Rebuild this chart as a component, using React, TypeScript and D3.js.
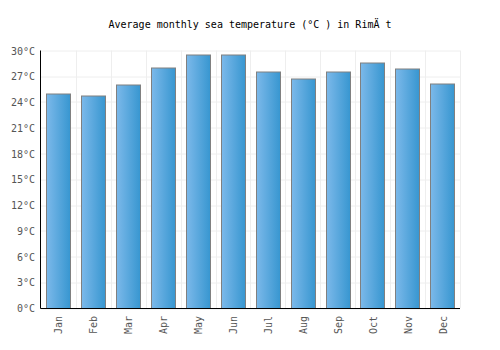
import { useRef, useEffect } from 'react';
import * as d3 from 'd3';

const months = ['Jan', 'Feb', 'Mar', 'Apr', 'May', 'Jun', 'Jul', 'Aug', 'Sep', 'Oct', 'Nov', 'Dec'];
const seaTemps = [25.0, 24.8, 26.0, 28.0, 29.5, 29.5, 27.6, 26.7, 27.6, 28.6, 27.9, 26.1];
const yTicks = [0, 3, 6, 9, 12, 15, 18, 21, 24, 27, 30];
const title = 'Average monthly sea temperature (°C ) in RimÄ t';

export default function App() {
  const svgRef = useRef<SVGSVGElement>(null);

  useEffect(() => {
    if (!svgRef.current) return;
    const svg = d3.select(svgRef.current);
    svg.selectAll('*').remove();

    const width = 500;
    const height = 350;
    const margin = { top: 50.5, right: 40, bottom: 42, left: 41 };
    const plotW = width - margin.left - margin.right;
    const plotH = height - margin.top - margin.bottom;
    const font = '"DejaVu Sans Mono", monospace';

    const defs = svg.append('defs');
    const grad = defs.append('linearGradient').attr('id', 'barGrad')
      .attr('x1', '0%').attr('x2', '100%').attr('y1', '0%').attr('y2', '0%');
    grad.append('stop').attr('offset', '0%').attr('stop-color', '#7cb9ea');
    grad.append('stop').attr('offset', '100%').attr('stop-color', '#3796d0');

    svg.append('rect').attr('width', width).attr('height', height).attr('fill', 'white');

    svg.append('text')
      .attr('x', width / 2)
      .attr('y', 28)
      .attr('text-anchor', 'middle')
      .attr('font-family', font)
      .attr('font-size', 10)
      .attr('fill', '#000')
      .text(title);

    const g = svg.append('g').attr('transform', `translate(${margin.left},${margin.top})`);

    const x = d3.scaleBand().domain(months).range([0, plotW]).paddingInner(0.3).paddingOuter(0.15);
    const xGrid = d3.scaleBand().domain(months).range([0, plotW]);
    const y = d3.scaleLinear().domain([0, 30]).range([plotH, 0]);

    // grid
    g.append('g')
      .selectAll('line')
      .data(yTicks)
      .enter()
      .append('line')
      .attr('x1', 0)
      .attr('x2', plotW)
      .attr('y1', d => Math.round(y(d)) + 0.5)
      .attr('y2', d => Math.round(y(d)) + 0.5)
      .attr('stroke', '#eeeeee');

    g.append('g')
      .selectAll('line')
      .data(months)
      .enter()
      .append('line')
      .attr('x1', d => Math.round(xGrid(d)! + xGrid.bandwidth()) + 0.5)
      .attr('x2', d => Math.round(xGrid(d)! + xGrid.bandwidth()) + 0.5)
      .attr('y1', 0)
      .attr('y2', plotH)
      .attr('stroke', '#eeeeee');

    // bars
    g.selectAll('.bar')
      .data(seaTemps)
      .enter()
      .append('rect')
      .attr('class', 'bar')
      .attr('x', (d, i) => Math.round(x(months[i])!) + 0.5)
      .attr('y', d => Math.round(y(d)) + 0.5)
      .attr('width', Math.round(x.bandwidth()))
      .attr('height', d => plotH - Math.round(y(d)))
      .attr('fill', 'url(#barGrad)')
      .attr('stroke', '#808080')
      .attr('stroke-width', 1);

    // y axis labels
    g.append('g')
      .selectAll('text')
      .data(yTicks)
      .enter()
      .append('text')
      .attr('x', -6)
      .attr('y', d => y(d) + 4)
      .attr('text-anchor', 'end')
      .attr('font-family', font)
      .attr('font-size', 10)
      .attr('fill', '#555')
      .text(d => `${d}°C`);

    // x axis labels
    g.append('g')
      .selectAll('text')
      .data(months)
      .enter()
      .append('text')
      .attr('transform', d => `translate(${x(d)! + x.bandwidth() / 2 + 4},${plotH + 8}) rotate(-90)`)
      .attr('text-anchor', 'end')
      .attr('font-family', font)
      .attr('font-size', 10)
      .attr('fill', '#555')
      .text(d => d);

    // axes lines
    g.append('line')
      .attr('x1', -0.5).attr('x2', -0.5)
      .attr('y1', 0).attr('y2', plotH + 0.5)
      .attr('stroke', '#000');
    g.append('line')
      .attr('x1', -0.5).attr('x2', plotW)
      .attr('y1', plotH + 0.5).attr('y2', plotH + 0.5)
      .attr('stroke', '#000');
  }, []);

  return (
    <svg ref={svgRef} width={500} height={350} style={{ position: 'absolute', left: 0, top: 0 }} />
  );
}
